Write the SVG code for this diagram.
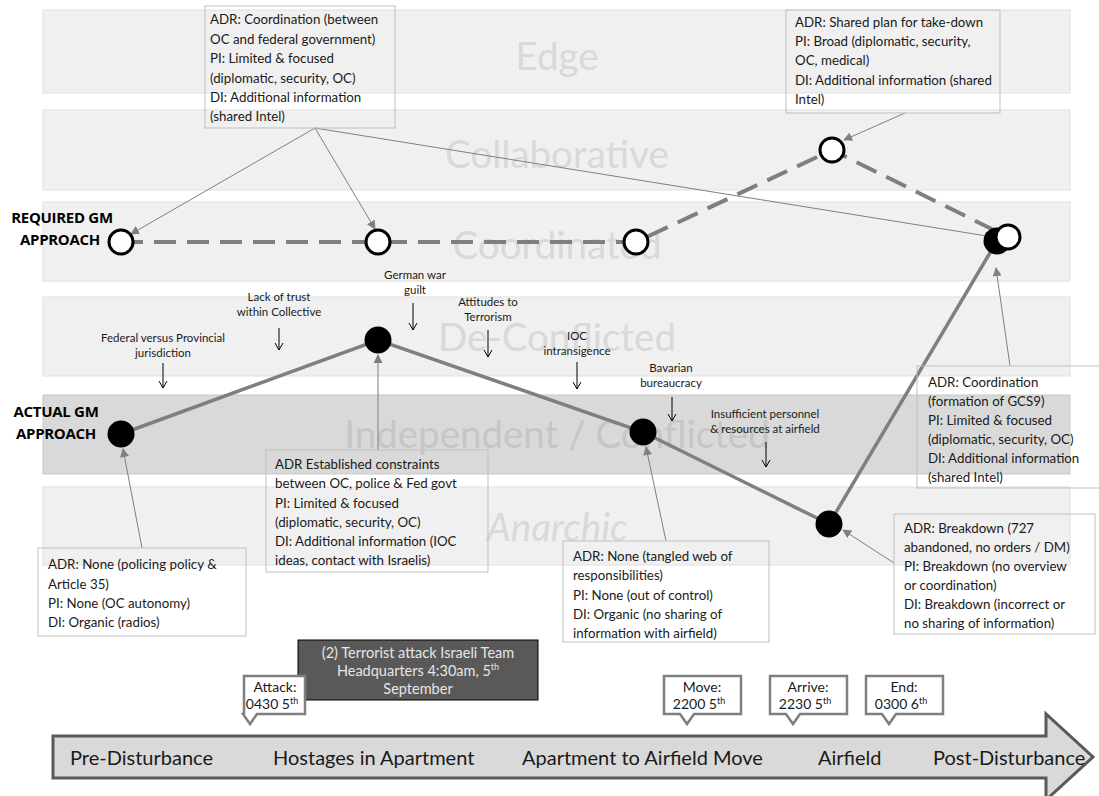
<svg xmlns="http://www.w3.org/2000/svg" width="1099" height="796" viewBox="0 0 1099 796">
  <style>
    .band { fill: #f0f0f0; stroke: #e0e0e0; stroke-width: 1; }
    .band-dark { fill: #d9d9d9; stroke: #c8c8c8; stroke-width: 1; }
    .band-label { font-family: Lato, "Open Sans", sans-serif; font-size: 38.5px; fill: #d9d9d9; text-anchor: middle; }
    .band-label-dark { font-family: Lato, "Open Sans", sans-serif; font-size: 38.5px; fill: #c6c6c6; text-anchor: middle; }
    .side { font-family: "Open Sans", Lato, sans-serif; font-weight: bold; font-size: 15px; fill: #000; text-anchor: middle; letter-spacing: -0.3px; }
    .info { fill: none; stroke: #bfbfbf; stroke-width: 1; }
    .info-text { font-family: Lato, "Open Sans", sans-serif; font-size: 13.3px; fill: #1a1a1a; }
    .factor { font-family: Lato, "Open Sans", sans-serif; font-size: 11.5px; fill: #1a1a1a; text-anchor: middle; }
    .factor-arrow { stroke: #000; stroke-width: 1; fill: none; }
    .pointer { stroke: #7f7f7f; stroke-width: 1; fill: none; marker-end: url(#tri); }
    .required-path { stroke: #7f7f7f; stroke-width: 4; fill: none; stroke-dasharray: 22 11; }
    .actual-path { stroke: #7f7f7f; stroke-width: 3.5; fill: none; }
    .req { fill: #fff; stroke: #000; stroke-width: 3; }
    .act { fill: #000; }
    .callout { fill: #fff; stroke: #7f7f7f; stroke-width: 2.5; stroke-linejoin: miter; }
    .callout-text { font-family: Lato, "Open Sans", sans-serif; font-size: 14px; fill: #1a1a1a; text-anchor: middle; }
    .event { fill: #595959; stroke: #000; stroke-width: 1; }
    .event-text { font-family: Lato, "Open Sans", sans-serif; font-size: 14.5px; fill: #e6e6e6; text-anchor: middle; }
    .timeline { fill: #d9d9d9; stroke: #595959; stroke-width: 3; }
    .phase { font-family: Lato, "Open Sans", sans-serif; font-size: 20px; fill: #1a1a1a; }
  </style>
  <defs>
    <marker id="tri" viewBox="0 0 10 10" refX="9" refY="5" markerWidth="9" markerHeight="9" markerUnits="userSpaceOnUse" orient="auto">
      <path d="M0,0 L10,5 L0,10 z" fill="#7f7f7f"/>
    </marker>
  </defs>

  <!-- scale of coordination bands -->
  <g id="bands">
    <rect class="band" x="43" y="10" width="1027" height="83"/>
    <rect class="band" x="43" y="110" width="1027" height="80"/>
    <rect class="band" x="43" y="202" width="1027" height="79"/>
    <rect class="band" x="43" y="297" width="1027" height="79"/>
    <rect class="band-dark" x="43" y="395" width="1027" height="79"/>
    <rect class="band" x="43" y="487" width="1027" height="78"/>
    <text class="band-label" x="557" y="70">Edge</text>
    <text class="band-label" x="557" y="168">Collaborative</text>
    <text class="band-label" x="557" y="259">Coordinated</text>
    <text class="band-label" x="557" y="351">De-Conflicted</text>
    <text class="band-label-dark" x="557" y="448">Independent / Conflicted</text>
    <text class="band-label" x="557" y="541" font-style="italic">Anarchic</text>
  </g>

  <g id="side-labels">
    <text class="side" x="62" y="223">REQUIRED GM</text>
    <text class="side" x="60" y="245">APPROACH</text>
    <text class="side" x="56" y="417">ACTUAL GM</text>
    <text class="side" x="56" y="439">APPROACH</text>
  </g>

  <!-- influencing factors with down arrows -->
  <g id="factors">
    <text class="factor" x="163" y="342">Federal versus Provincial</text>
    <text class="factor" x="163" y="357">jurisdiction</text>
    <path class="factor-arrow" d="M163,363 V388 M159,381 L163,388 L167,381"/>
    <text class="factor" x="279" y="301">Lack of trust</text>
    <text class="factor" x="279" y="316">within Collective</text>
    <path class="factor-arrow" d="M279,328 V350 M275,343 L279,350 L283,343"/>
    <text class="factor" x="415" y="279">German war</text>
    <text class="factor" x="415" y="294">guilt</text>
    <path class="factor-arrow" d="M413,303 V330 M409,323 L413,330 L417,323"/>
    <text class="factor" x="488" y="306">Attitudes to</text>
    <text class="factor" x="488" y="321">Terrorism</text>
    <path class="factor-arrow" d="M488,330 V357 M484,350 L488,357 L492,350"/>
    <text class="factor" x="577" y="340">IOC</text>
    <text class="factor" x="577" y="355">intransigence</text>
    <path class="factor-arrow" d="M577,362 V389 M573,382 L577,389 L581,382"/>
    <text class="factor" x="671" y="372">Bavarian</text>
    <text class="factor" x="671" y="387">bureaucracy</text>
    <path class="factor-arrow" d="M672,397 V421 M668,414 L672,421 L676,414"/>
    <text class="factor" x="765" y="418">Insufficient personnel</text>
    <text class="factor" x="765" y="433">&amp; resources at airfield</text>
    <path class="factor-arrow" d="M766,442 V467 M762,460 L766,467 L770,460"/>
  </g>

  <!-- connectors: required and actual approach paths, annotation pointers -->
  <g id="connectors">
    <polyline class="required-path" points="121,242 378,242 636,242 832,150 1008,237"/>
    <polyline class="actual-path" points="121,434 378,340 643,432 829,524 997,241"/>
    <line class="pointer" x1="315" y1="128" x2="131" y2="234"/>
    <line class="pointer" x1="315" y1="128" x2="375" y2="229"/>
    <line class="pointer" x1="315" y1="128" x2="993" y2="237"/>
    <line class="pointer" x1="905" y1="113" x2="844" y2="140"/>
    <line class="pointer" x1="1010" y1="366" x2="996" y2="268"/>
    <line class="pointer" x1="142" y1="548" x2="123" y2="449"/>
    <line class="pointer" x1="378" y1="450" x2="378" y2="355"/>
    <line class="pointer" x1="666" y1="541" x2="646" y2="447"/>
    <line class="pointer" x1="894" y1="563" x2="843" y2="530"/>
  </g>

  <!-- required approach nodes -->
  <g id="req-1"><circle class="req" cx="121" cy="242" r="12"/></g>
  <g id="req-2"><circle class="req" cx="378" cy="242" r="12"/></g>
  <g id="req-3"><circle class="req" cx="636" cy="242" r="12"/></g>
  <g id="req-4"><circle class="req" cx="832" cy="150" r="12"/></g>

  <!-- actual approach nodes -->
  <g id="act-1"><circle class="act" cx="121" cy="434" r="13.5"/></g>
  <g id="act-2"><circle class="act" cx="378" cy="340" r="13.5"/></g>
  <g id="act-3"><circle class="act" cx="643" cy="432" r="13.5"/></g>
  <g id="act-4"><circle class="act" cx="829" cy="524" r="13.5"/></g>
  <g id="act-5"><circle class="act" cx="997" cy="241" r="13.5"/></g>
  <g id="req-5"><circle class="req" cx="1008" cy="237" r="12"/></g>

  <!-- description boxes -->
  <g id="box-coord-fed">
    <rect class="info" x="205" y="6" width="190" height="122"/>
    <text class="info-text" x="210" y="24">ADR: Coordination (between</text>
    <text class="info-text" x="210" y="44">OC and federal government)</text>
    <text class="info-text" x="210" y="63">PI: Limited &amp; focused</text>
    <text class="info-text" x="210" y="83">(diplomatic, security, OC)</text>
    <text class="info-text" x="210" y="102">DI: Additional information</text>
    <text class="info-text" x="210" y="121">(shared Intel)</text>
  </g>
  <g id="box-takedown">
    <rect class="info" x="786" y="10" width="214" height="103"/>
    <text class="info-text" x="795" y="27">ADR: Shared plan for take-down</text>
    <text class="info-text" x="795" y="46">PI: Broad (diplomatic, security,</text>
    <text class="info-text" x="795" y="65">OC, medical)</text>
    <text class="info-text" x="795" y="85">DI: Additional information (shared</text>
    <text class="info-text" x="795" y="104">Intel)</text>
  </g>
  <g id="box-policing">
    <rect class="info" x="38" y="548" width="208" height="88"/>
    <text class="info-text" x="48" y="569">ADR: None (policing policy &amp;</text>
    <text class="info-text" x="48" y="589">Article 35)</text>
    <text class="info-text" x="48" y="608">PI: None (OC autonomy)</text>
    <text class="info-text" x="48" y="627">DI: Organic (radios)</text>
  </g>
  <g id="box-constraints">
    <rect class="info" x="266" y="450" width="222" height="122"/>
    <text class="info-text" x="275" y="469">ADR Established constraints</text>
    <text class="info-text" x="275" y="488">between OC, police &amp; Fed govt</text>
    <text class="info-text" x="275" y="508">PI: Limited &amp; focused</text>
    <text class="info-text" x="275" y="527">(diplomatic, security, OC)</text>
    <text class="info-text" x="275" y="546">DI: Additional information (IOC</text>
    <text class="info-text" x="275" y="565">ideas, contact with Israelis)</text>
  </g>
  <g id="box-tangled">
    <rect class="info" x="563" y="541" width="206" height="101"/>
    <text class="info-text" x="573" y="561">ADR: None (tangled web of</text>
    <text class="info-text" x="573" y="580">responsibilities)</text>
    <text class="info-text" x="573" y="600">PI: None (out of control)</text>
    <text class="info-text" x="573" y="619">DI: Organic (no sharing of</text>
    <text class="info-text" x="573" y="638">information with airfield)</text>
  </g>
  <g id="box-gcs9">
    <rect class="info" x="917" y="366" width="190" height="122"/>
    <text class="info-text" x="928" y="387">ADR: Coordination</text>
    <text class="info-text" x="928" y="406">(formation of GCS9)</text>
    <text class="info-text" x="928" y="425">PI: Limited &amp; focused</text>
    <text class="info-text" x="928" y="444">(diplomatic, security, OC)</text>
    <text class="info-text" x="928" y="463">DI: Additional information</text>
    <text class="info-text" x="928" y="482">(shared Intel)</text>
  </g>
  <g id="box-breakdown">
    <rect class="info" x="894" y="514" width="201" height="120"/>
    <text class="info-text" x="904" y="533">ADR: Breakdown (727</text>
    <text class="info-text" x="904" y="552">abandoned, no orders / DM)</text>
    <text class="info-text" x="904" y="571">PI: Breakdown (no overview</text>
    <text class="info-text" x="904" y="590">or coordination)</text>
    <text class="info-text" x="904" y="609">DI: Breakdown (incorrect or</text>
    <text class="info-text" x="904" y="628">no sharing of information)</text>
  </g>

  <!-- event marker -->
  <g id="event-attack">
    <rect class="event" x="298" y="640" width="240" height="60"/>
    <text class="event-text" x="418" y="658">(2) Terrorist attack Israeli Team</text>
    <text class="event-text" x="418" y="676">Headquarters 4:30am, 5<tspan font-size="9" dy="-6">th</tspan></text>
    <text class="event-text" x="418" y="694">September</text>
  </g>

  <!-- timeline -->
  <g id="timeline">
    <polygon class="timeline" points="53,736 1046,736 1046,714 1093,757 1046,800 1046,778 53,778"/>
    <text class="phase" x="70" y="765">Pre-Disturbance</text>
    <text class="phase" x="273" y="765">Hostages in Apartment</text>
    <text class="phase" x="522" y="765">Apartment to Airfield Move</text>
    <text class="phase" x="818" y="765">Airfield</text>
    <text class="phase" x="933" y="765" font-size="19.5">Post-Disturbance</text>
  </g>

  <g id="callout-attack">
    <path class="callout" d="M244,676 H305 V714 H257 L250,724 L243,714 H244 Z"/>
    <text class="callout-text" x="275" y="692">Attack:</text>
    <text class="callout-text" x="272" y="709">0430 5<tspan font-size="9" dy="-5">th</tspan></text>
  </g>
  <g id="callout-move">
    <path class="callout" d="M664,676 H741 V714 H694 L687,724 L680,714 H664 Z"/>
    <text class="callout-text" x="702" y="692">Move:</text>
    <text class="callout-text" x="699" y="709">2200 5<tspan font-size="9" dy="-5">th</tspan></text>
  </g>
  <g id="callout-arrive">
    <path class="callout" d="M770,676 H847 V714 H800 L793,724 L786,714 H770 Z"/>
    <text class="callout-text" x="808" y="692">Arrive:</text>
    <text class="callout-text" x="805" y="709">2230 5<tspan font-size="9" dy="-5">th</tspan></text>
  </g>
  <g id="callout-end">
    <path class="callout" d="M866,676 H943 V714 H896 L889,724 L882,714 H866 Z"/>
    <text class="callout-text" x="904" y="692">End:</text>
    <text class="callout-text" x="901" y="709">0300 6<tspan font-size="9" dy="-5">th</tspan></text>
  </g>
</svg>
